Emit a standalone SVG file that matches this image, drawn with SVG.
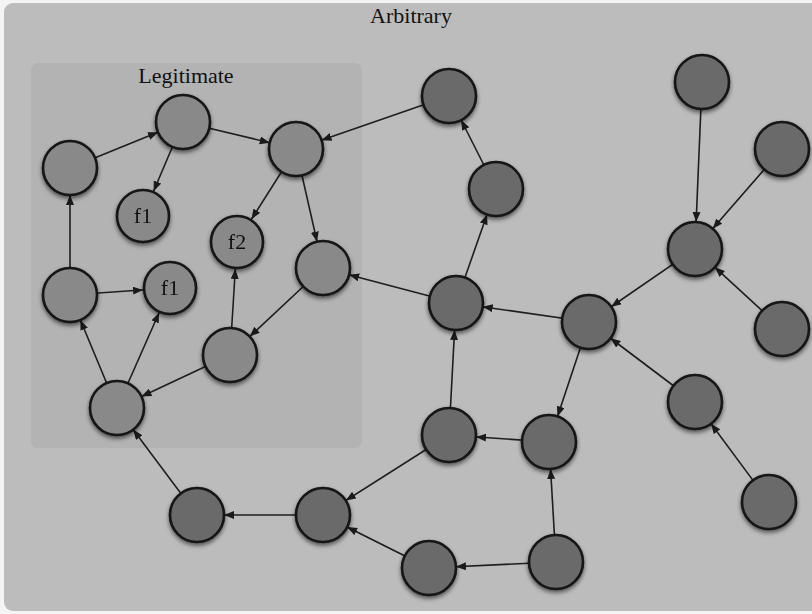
<svg xmlns="http://www.w3.org/2000/svg" width="812" height="614" viewBox="0 0 812 614">
  <style>
    .lbl { font-family: "Liberation Serif", "DejaVu Serif", serif; font-size: 22px; fill: #111; text-anchor: middle; }
    .edge { stroke: #1e1e1e; stroke-width: 1.6; fill: none; marker-end: url(#arrow); }
    .legit circle { fill: #898989; }
    .arb circle { fill: #6b6b6b; }
    .node circle { stroke: #141414; stroke-width: 2.6; }
  </style>
  <defs>
    <marker id="arrow" markerUnits="userSpaceOnUse" markerWidth="40" markerHeight="10" refX="37" refY="4" orient="auto">
      <path d="M0,0 L10,4 L0,8 z" fill="#1a1a1a"/>
    </marker>
    <filter id="shadow" x="-30%" y="-30%" width="160%" height="170%">
      <feDropShadow dx="0" dy="2.5" stdDeviation="2.2" flood-color="#000" flood-opacity="0.55"/>
    </filter>
  </defs>

  <rect x="0" y="0" width="812" height="614" fill="#f4f4f4"/>
  <!-- outer region -->
  <g id="arbitrary-region">
    <rect x="4" y="3" width="820" height="608" rx="9" fill="#bcbcbc"/>
    <text class="lbl" x="411" y="23">Arbitrary</text>
  </g>
  <!-- inner region -->
  <g id="legitimate-region">
    <rect x="31" y="63" width="331" height="385" rx="7" fill="#b3b3b3"/>
    <text class="lbl" x="186" y="83">Legitimate</text>
  </g>

  <!-- connectors: drawn centre to centre, nodes cover the ends -->
  <g id="edges">
    <line class="edge" x1="70" y1="168" x2="183" y2="122"/>
    <line class="edge" x1="183" y1="122" x2="143" y2="216"/>
    <line class="edge" x1="183" y1="122" x2="296" y2="149"/>
    <line class="edge" x1="296" y1="149" x2="237" y2="242"/>
    <line class="edge" x1="296" y1="149" x2="323" y2="268"/>
    <line class="edge" x1="449" y1="96" x2="296" y2="149"/>
    <line class="edge" x1="70" y1="295" x2="70" y2="168"/>
    <line class="edge" x1="70" y1="295" x2="170" y2="288"/>
    <line class="edge" x1="117" y1="408" x2="70" y2="295"/>
    <line class="edge" x1="117" y1="408" x2="170" y2="288"/>
    <line class="edge" x1="230" y1="355" x2="237" y2="242"/>
    <line class="edge" x1="323" y1="268" x2="230" y2="355"/>
    <line class="edge" x1="230" y1="355" x2="117" y2="408"/>
    <line class="edge" x1="197" y1="515" x2="117" y2="408"/>
    <line class="edge" x1="323" y1="515" x2="197" y2="515"/>
    <line class="edge" x1="449" y1="435" x2="323" y2="515"/>
    <line class="edge" x1="429" y1="568" x2="323" y2="515"/>
    <line class="edge" x1="556" y1="562" x2="429" y2="568"/>
    <line class="edge" x1="556" y1="562" x2="549" y2="442"/>
    <line class="edge" x1="549" y1="442" x2="449" y2="435"/>
    <line class="edge" x1="449" y1="435" x2="456" y2="303"/>
    <line class="edge" x1="589" y1="322" x2="549" y2="442"/>
    <line class="edge" x1="589" y1="322" x2="456" y2="303"/>
    <line class="edge" x1="456" y1="303" x2="323" y2="268"/>
    <line class="edge" x1="456" y1="303" x2="496" y2="189"/>
    <line class="edge" x1="496" y1="189" x2="449" y2="96"/>
    <line class="edge" x1="702" y1="82" x2="695" y2="249"/>
    <line class="edge" x1="782" y1="149" x2="695" y2="249"/>
    <line class="edge" x1="695" y1="249" x2="589" y2="322"/>
    <line class="edge" x1="782" y1="329" x2="695" y2="249"/>
    <line class="edge" x1="695" y1="402" x2="589" y2="322"/>
    <line class="edge" x1="769" y1="502" x2="695" y2="402"/>
  </g>

  <g id="nodes" filter="url(#shadow)">
    <g class="legit">
      <g id="n-l1" class="node"><circle cx="70" cy="168" r="27"/></g>
      <g id="n-l2" class="node"><circle cx="183" cy="122" r="27"/></g>
      <g id="n-l3" class="node"><circle cx="296" cy="149" r="27"/></g>
      <g id="n-f1a" class="node"><circle cx="143" cy="216" r="26"/><text class="lbl" x="143" y="223">f1</text></g>
      <g id="n-f2" class="node"><circle cx="237" cy="242" r="26"/><text class="lbl" x="237" y="249">f2</text></g>
      <g id="n-l4" class="node"><circle cx="323" cy="268" r="27"/></g>
      <g id="n-l5" class="node"><circle cx="70" cy="295" r="27"/></g>
      <g id="n-f1b" class="node"><circle cx="170" cy="288" r="26"/><text class="lbl" x="170" y="295">f1</text></g>
      <g id="n-l6" class="node"><circle cx="230" cy="355" r="27"/></g>
      <g id="n-l7" class="node"><circle cx="117" cy="408" r="27"/></g>
    </g>
    <g class="arb">
      <g id="n-a1" class="node"><circle cx="449" cy="96" r="27"/></g>
      <g id="n-a2" class="node"><circle cx="496" cy="189" r="27"/></g>
      <g id="n-a3" class="node"><circle cx="702" cy="82" r="27"/></g>
      <g id="n-a4" class="node"><circle cx="782" cy="149" r="27"/></g>
      <g id="n-a5" class="node"><circle cx="695" cy="249" r="27"/></g>
      <g id="n-a6" class="node"><circle cx="456" cy="303" r="27"/></g>
      <g id="n-a7" class="node"><circle cx="589" cy="322" r="27"/></g>
      <g id="n-a8" class="node"><circle cx="782" cy="329" r="27"/></g>
      <g id="n-a9" class="node"><circle cx="695" cy="402" r="27"/></g>
      <g id="n-a10" class="node"><circle cx="449" cy="435" r="27"/></g>
      <g id="n-a11" class="node"><circle cx="549" cy="442" r="27"/></g>
      <g id="n-a12" class="node"><circle cx="769" cy="502" r="27"/></g>
      <g id="n-a13" class="node"><circle cx="556" cy="562" r="27"/></g>
      <g id="n-a14" class="node"><circle cx="429" cy="568" r="27"/></g>
      <g id="n-a15" class="node"><circle cx="323" cy="515" r="27"/></g>
      <g id="n-a16" class="node"><circle cx="197" cy="515" r="27"/></g>
    </g>
  </g>
</svg>
